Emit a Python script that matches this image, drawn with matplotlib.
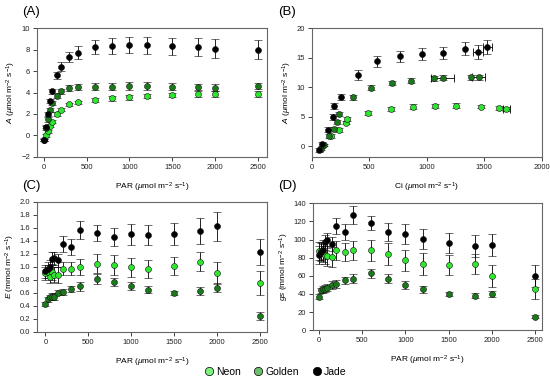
import numpy as np
import matplotlib
matplotlib.use("Agg")
import matplotlib.pyplot as plt
from matplotlib.lines import Line2D

plt.rcParams['font.family'] = ['Liberation Sans', 'DejaVu Sans']
plt.rcParams['mathtext.fontset'] = 'custom'
plt.rcParams['mathtext.rm'] = 'Liberation Sans'
plt.rcParams['mathtext.it'] = 'Liberation Sans:italic'

# --- data ---
par = [0, 25, 50, 75, 100, 150, 200, 300, 400, 600, 800, 1000, 1200, 1500, 1800, 2000, 2500]

# (A) net photosynthesis vs PAR
a_jade = [-0.45, 0.8, 2.0, 3.2, 4.1, 5.6, 6.4, 7.3, 7.7, 8.2, 8.3, 8.4, 8.4, 8.3, 8.25, 8.1, 8.0]
a_jade_err = [0.1, 0.15, 0.2, 0.2, 0.2, 0.3, 0.4, 0.5, 0.6, 0.65, 0.75, 0.75, 0.8, 0.8, 0.85, 0.85, 0.9]
a_golden = [-0.4, 0.7, 1.5, 2.4, 3.0, 3.7, 4.1, 4.4, 4.5, 4.55, 4.55, 4.6, 4.6, 4.55, 4.5, 4.45, 4.6]
a_golden_err = [0.15, 0.15, 0.2, 0.2, 0.2, 0.25, 0.25, 0.3, 0.3, 0.3, 0.3, 0.35, 0.35, 0.3, 0.3, 0.3, 0.3]
a_neon = [-0.4, 0.0, 0.4, 0.9, 1.3, 2.0, 2.4, 2.9, 3.1, 3.3, 3.45, 3.55, 3.7, 3.75, 3.85, 3.85, 3.85]
a_neon_err = [0.1, 0.1, 0.15, 0.15, 0.15, 0.15, 0.15, 0.15, 0.15, 0.2, 0.2, 0.2, 0.2, 0.2, 0.25, 0.25, 0.25]

# (B) net photosynthesis vs Ci
ci_jade = [65, 90, 140, 185, 190, 250, 400, 570, 765, 955, 1145, 1330, 1445, 1525]
ci_jade_err = [0, 0, 0, 0, 0, 0, 0, 0, 0, 0, 0, 0, 40, 40]
b_jade = [-0.6, 0.4, 2.8, 5.0, 6.8, 8.3, 12.1, 14.4, 15.2, 15.6, 15.8, 16.5, 16.0, 16.8]
b_jade_err = [0.3, 0.3, 0.4, 0.5, 0.5, 0.5, 0.8, 0.9, 1.0, 1.0, 1.0, 1.1, 1.2, 1.2]
ci_golden = [75, 100, 145, 190, 215, 235, 360, 515, 700, 860, 1060, 1140, 1385, 1450]
ci_golden_err = [0, 0, 0, 0, 0, 0, 0, 0, 0, 0, 0, 100, 0, 60]
b_golden = [-0.5, 0.2, 1.7, 3.0, 4.1, 5.5, 8.3, 9.9, 10.7, 11.1, 11.5, 11.6, 11.7, 11.7]
b_golden_err = [0.2, 0.2, 0.3, 0.3, 0.3, 0.3, 0.4, 0.4, 0.4, 0.4, 0.4, 0.4, 0.4, 0.4]
ci_neon = [80, 105, 170, 235, 295, 310, 490, 690, 880, 1070, 1255, 1470, 1625, 1690]
ci_neon_err = [0, 0, 0, 0, 0, 0, 0, 0, 0, 0, 0, 0, 0, 30]
b_neon = [-0.5, 0.2, 1.7, 2.8, 4.0, 4.6, 5.6, 6.3, 6.7, 6.8, 6.9, 6.7, 6.5, 6.3]
b_neon_err = [0.2, 0.2, 0.3, 0.3, 0.3, 0.3, 0.3, 0.4, 0.4, 0.4, 0.4, 0.3, 0.3, 0.3]

# (C) transpiration vs PAR
e_jade = [0.93, 0.97, 1.0, 1.12, 1.13, 1.1, 1.35, 1.3, 1.56, 1.52, 1.46, 1.5, 1.49, 1.51, 1.55, 1.62, 1.22]
e_jade_err = [0.1, 0.1, 0.1, 0.1, 0.1, 0.1, 0.12, 0.12, 0.14, 0.12, 0.14, 0.16, 0.16, 0.17, 0.2, 0.22, 0.2]
e_neon = [0.9, 0.92, 0.85, 0.92, 0.88, 0.87, 0.97, 0.97, 1.0, 1.05, 1.03, 0.99, 0.97, 1.01, 1.08, 0.91, 0.75]
e_neon_err = [0.1, 0.1, 0.1, 0.12, 0.12, 0.12, 0.1, 0.1, 0.12, 0.14, 0.15, 0.14, 0.14, 0.14, 0.15, 0.17, 0.18]
e_golden = [0.42, 0.5, 0.53, 0.54, 0.54, 0.6, 0.61, 0.66, 0.7, 0.81, 0.76, 0.7, 0.65, 0.6, 0.63, 0.68, 0.24]
e_golden_err = [0.03, 0.04, 0.04, 0.05, 0.05, 0.04, 0.05, 0.05, 0.07, 0.08, 0.06, 0.06, 0.05, 0.03, 0.06, 0.07, 0.06]

# (D) stomatal conductance vs PAR
gs_jade = [83, 86, 89, 97, 99, 95, 115, 108, 127, 118, 108, 106, 101, 96, 93, 94, 60]
gs_jade_err = [10, 10, 10, 8, 8, 8, 9, 9, 10, 8, 10, 11, 11, 11, 12, 12, 12]
gs_neon = [87, 87, 85, 83, 82, 81, 88, 86, 88, 88, 84, 77, 73, 72, 73, 60, 45]
gs_neon_err = [10, 10, 10, 10, 11, 11, 10, 10, 10, 12, 12, 12, 12, 11, 11, 12, 11]
gs_golden = [37, 44, 45, 46, 47, 50, 51, 55, 57, 63, 57, 50, 45, 40, 38, 40, 15]
gs_golden_err = [3, 3, 4, 4, 4, 4, 4, 4, 5, 5, 5, 4, 4, 2, 3, 3, 2]

c_neon = '#2ee62e'
c_golden = '#1a7a1a'
c_jade = 'black'
unit = r' ($\mu$mol m$^{-2}$ s$^{-1}$)'
munit = r' (mmol m$^{-2}$ s$^{-1}$)'

fig = plt.figure(figsize=(5.5, 3.8), dpi=100)
axA = fig.add_axes([0.067, 0.587, 0.418, 0.339])
axB = fig.add_axes([0.567, 0.587, 0.418, 0.339])
axC = fig.add_axes([0.067, 0.127, 0.418, 0.342])
axD = fig.add_axes([0.569, 0.131, 0.417, 0.334])

ekw = dict(fmt='o', ms=4.3, mec='#111111', mew=0.4, ecolor='black', elinewidth=0.6,
           capsize=3, capthick=0.6, zorder=3)


def draw(ax, x, series):
    for y, err, col in series:
        ax.errorbar(x, y, yerr=err, mfc=col, **ekw)


draw(axA, par, [(a_neon, a_neon_err, c_neon), (a_golden, a_golden_err, c_golden),
                (a_jade, a_jade_err, c_jade)])
for xs, xe, y, ye, col in [(ci_neon, ci_neon_err, b_neon, b_neon_err, c_neon),
                           (ci_golden, ci_golden_err, b_golden, b_golden_err, c_golden),
                           (ci_jade, ci_jade_err, b_jade, b_jade_err, c_jade)]:
    xs, xe, y = np.array(xs), np.array(xe), np.array(y)
    m = xe > 0
    axB.errorbar(xs[m], y[m], xerr=xe[m], fmt='none', ecolor='black',
                 elinewidth=0.6, capsize=3, capthick=0.6, zorder=2)
    axB.errorbar(xs, y, yerr=ye, mfc=col, **ekw)
draw(axC, par, [(e_neon, e_neon_err, c_neon), (e_golden, e_golden_err, c_golden),
                (e_jade, e_jade_err, c_jade)])
draw(axD, par, [(gs_neon, gs_neon_err, c_neon), (gs_golden, gs_golden_err, c_golden),
                (gs_jade, gs_jade_err, c_jade)])

axA.set_xlim(-80, 2600)
axA.set_ylim(-2, 10)
axA.set_xticks([0, 500, 1000, 1500, 2000, 2500])
axA.set_yticks(np.arange(-2, 11, 2))
axA.set_ylabel(r'$\it{A}$' + unit)
axA.set_xlabel('PAR' + unit)

axB.set_xlim(0, 2000)
axB.set_ylim(-1.8, 20)
axB.set_xticks([0, 500, 1000, 1500, 2000])
axB.set_yticks([0, 5, 10, 15, 20])
axB.set_ylabel(r'$\it{A}$' + unit)
axB.set_xlabel('Ci' + unit)

axC.set_xlim(-100, 2580)
axC.set_ylim(0, 2.0)
axC.set_xticks([0, 500, 1000, 1500, 2000, 2500])
axC.set_yticks(np.arange(0, 2.01, 0.2))
axC.set_yticklabels([f'{v:.1f}' for v in np.arange(0, 2.01, 0.2)])
axC.set_ylabel(r'$\it{E}$' + munit)
axC.set_xlabel('PAR' + unit)

axD.set_xlim(-66, 2580)
axD.set_ylim(0, 140)
axD.set_xticks([0, 500, 1000, 1500, 2000, 2500])
axD.set_yticks(np.arange(0, 141, 20))
axD.set_ylabel(r'$\it{gs}$' + munit)
axD.set_xlabel('PAR' + unit)

for ax in (axA, axB, axC, axD):
    ax.tick_params(direction='out', length=3, width=0.6, labelsize=5.5, pad=2, colors='#222222')
    ax.xaxis.label.set_size(6)
    ax.yaxis.label.set_size(6)
    ax.xaxis.labelpad = 7
    ax.yaxis.labelpad = 2
    for s in ax.spines.values():
        s.set_color('#666666')
        s.set_linewidth(0.8)

for lab, x, y in [('(A)', 0.04, 0.968), ('(B)', 0.505, 0.968),
                  ('(C)', 0.04, 0.51), ('(D)', 0.505, 0.51)]:
    fig.text(x, y, lab, fontsize=9.5, ha='left', va='center')

handles = [Line2D([], [], ls='none', marker='o', ms=6, mfc=c, mec='black', mew=0.5)
           for c in ('#7df07d', '#6abf6a', 'black')]
fig.legend(handles, ['Neon', 'Golden', 'Jade'], loc='center', bbox_to_anchor=(0.5, 0.022),
           ncol=3, frameon=False, fontsize=7.5, handletextpad=0.2, columnspacing=1.2,
           handlelength=1.0)

fig.savefig('out.png', dpi=100)
